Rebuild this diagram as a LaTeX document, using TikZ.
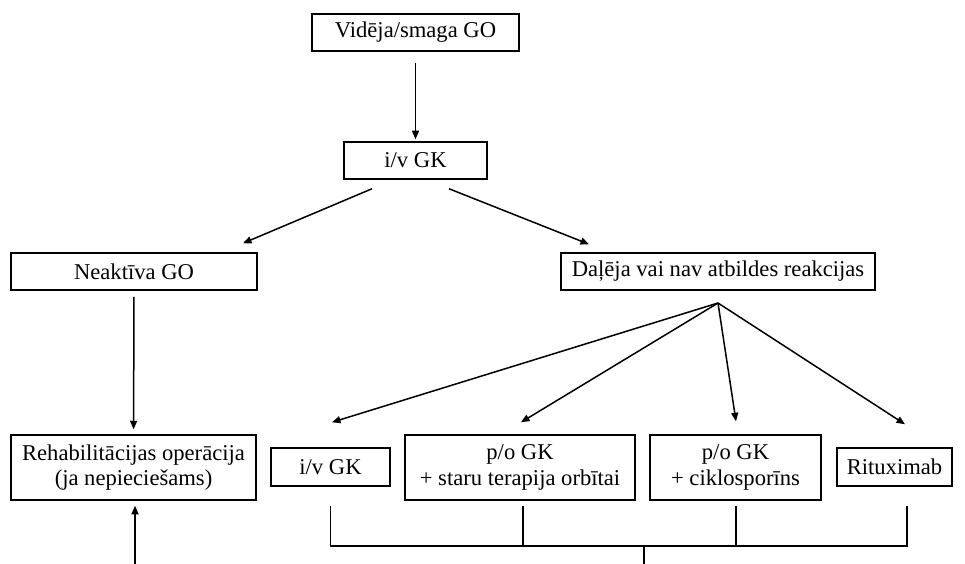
\documentclass[tikz,border=0pt]{standalone}
\usepackage{fontspec}
\setmainfont{Liberation Serif}
\usetikzlibrary{arrows.meta}
\tikzset{
  box/.style={draw, line width=1.5pt, inner sep=0pt, align=center,
    font=\fontsize{22.6}{25.5}\selectfont},
  arr/.style={line width=1.5pt, -{Triangle[length=8.5pt,width=7pt]}},
  ln/.style={line width=1.5pt}
}
\begin{document}
\begin{tikzpicture}[x=1pt,y=-1pt]
\useasboundingbox (0,0) rectangle (965,564);
\node[box, minimum width=207pt, minimum height=37pt] (top) at (415.5,32.5) {Vidēja/smaga GO};
\node[box, minimum width=143pt, minimum height=37pt] (ivgk1) at (415.5,160.5) {i/v GK};
\node[box, minimum width=246pt, minimum height=37pt] (neak) at (134,271.5) {Neaktīva GO};
\node[box, minimum width=314pt, minimum height=37pt] (dal) at (718,271.5) {Daļēja vai nav atbildes reakcijas};
\node[box, minimum width=245pt, minimum height=65pt] (rehab) at (133.5,467.5) {Rehabilitācijas operācija\\(ja nepieciešams)};
\node[box, minimum width=119pt, minimum height=38pt] (ivgk2) at (330.5,467) {i/v GK};
\node[box, minimum width=230pt, minimum height=65pt] (staru) at (520,467.5) {p/o GK\\+ staru terapija orbītai};
\node[box, minimum width=171pt, minimum height=65pt] (ciklo) at (735.5,467.5) {p/o GK\\+ ciklosporīns};
\node[box, minimum width=115pt, minimum height=38pt] (ritux) at (894.5,467) {Rituximab};

\coordinate (fan) at (718,303);
\coordinate (bar) at (644,546);
\coordinate (barend) at (644,564);
\coordinate (upstart) at (135,564);

\draw[arr, shorten <=11pt, shorten >=2pt] (top) -- (ivgk1);
\draw[arr] ([xshift=-43.5pt,yshift=-9pt]ivgk1.south) -- ([xshift=109pt,yshift=9pt]neak.north);
\draw[arr] ([xshift=33.5pt,yshift=-9pt]ivgk1.south) -- ([xshift=-129pt,yshift=8pt]dal.north);
\draw[arr, shorten <=6pt, shorten >=5pt] (neak) -- (rehab);
\draw[arr] (upstart) -- ([xshift=1.5pt,yshift=-5pt]rehab.south);

\draw[arr] (fan) -- ([xshift=1.5pt,yshift=25pt]ivgk2.north);
\draw[arr] (fan) -- ([xshift=1pt,yshift=12pt]staru.north);
\draw[arr] (fan) -- ([xshift=0.5pt,yshift=13pt]ciklo.north);
\draw[arr] (fan) -- ([xshift=10.5pt,yshift=23pt]ritux.north);

\draw[ln] ([yshift=-19pt]ivgk2.south) |- (bar);
\draw[ln] ([xshift=12.5pt,yshift=-19pt]ritux.south) |- (bar);
\draw[ln] ([xshift=3pt,yshift=-5pt]staru.south) -- ([xshift=3pt]staru.south |- bar);
\draw[ln] ([xshift=0.5pt,yshift=-5pt]ciklo.south) -- ([xshift=0.5pt]ciklo.south |- bar);
\draw[ln] (bar) -- (barend);
\end{tikzpicture}
\end{document}
